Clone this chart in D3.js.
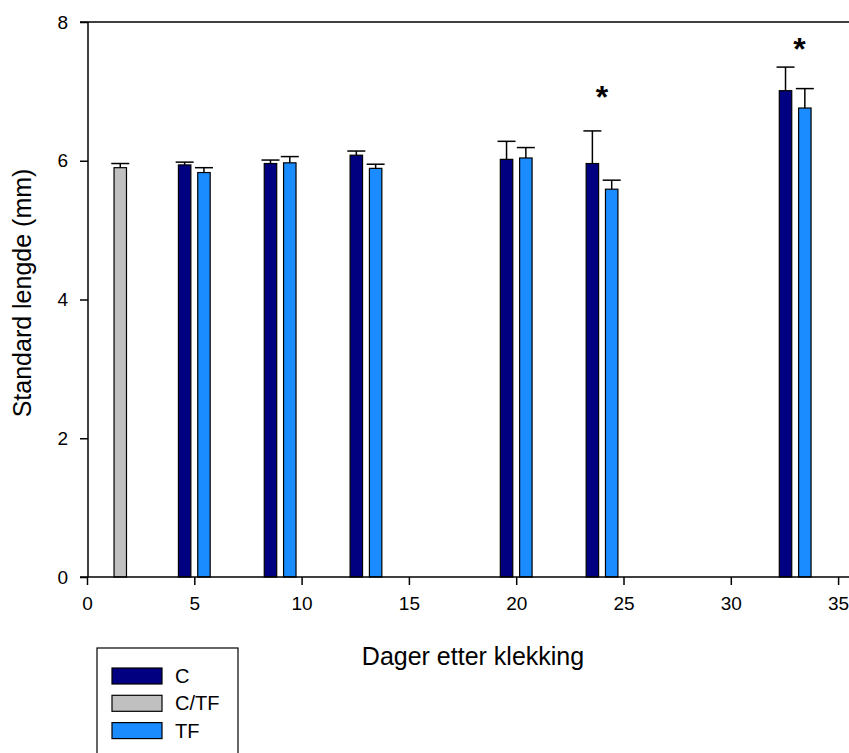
<!DOCTYPE html>
<html>
<head>
<meta charset="utf-8">
<script src="https://cdn.jsdelivr.net/npm/d3@7"></script>
<style>
  html, body { margin: 0; padding: 0; background: #fff; }
  svg { display: block; font-family: Arial, "Liberation Sans", sans-serif; }
</style>
</head>
<body>
<svg id="chart" width="849" height="753"></svg>
<script>
// ---- data ----
const days = [5, 9, 13, 20, 24, 33];
const cMean = [5.94, 5.96, 6.08, 6.02, 5.96, 7.01];
const cErr = [0.04, 0.05, 0.06, 0.26, 0.47, 0.34];
const tfMean = [5.83, 5.97, 5.89, 6.04, 5.59, 6.76];
const tfErr = [0.07, 0.09, 0.06, 0.15, 0.13, 0.28];
const ctfDays = [2];
const ctfMean = [5.90];
const ctfErr = [0.06];
const sigDays = [24, 33.2];
const sigLevel = [6.97, 7.67];
const xTicks = [0, 5, 10, 15, 20, 25, 30, 35];
const yTicks = [0, 2, 4, 6, 8];
const seriesNames = ["C", "C/TF", "TF"];
const seriesColors = ["#000080", "#c0c0c0", "#1a8cff"];

const svg = d3.select("#chart");
const x = d3.scaleLinear().domain([0, 36]).range([87, 87 + 36 * 21.46]);
const y = d3.scaleLinear().domain([0, 8]).range([577, 22]);

const barW = x(0.58) - x(0);
const off = 0.45;

const bars = [];
days.forEach((d, i) => {
  bars.push({ pos: d - off, v: cMean[i], e: cErr[i], s: 0 });
  bars.push({ pos: d + off, v: tfMean[i], e: tfErr[i], s: 2 });
});
ctfDays.forEach((d, i) => bars.push({ pos: d - off, v: ctfMean[i], e: ctfErr[i], s: 1 }));

// top frame line
svg.append("line").attr("x1", 80).attr("x2", 849).attr("y1", y(8)).attr("y2", y(8))
  .attr("stroke", "#000").attr("stroke-width", 1.5);

// error bars
const eg = svg.append("g");
bars.forEach(b => {
  const cx = x(b.pos);
  eg.append("line").attr("x1", cx).attr("x2", cx).attr("y1", y(b.v)).attr("y2", y(b.v + b.e))
    .attr("stroke", "#000").attr("stroke-width", 1.5);
  eg.append("line").attr("x1", cx - 9).attr("x2", cx + 9).attr("y1", y(b.v + b.e)).attr("y2", y(b.v + b.e))
    .attr("stroke", "#000").attr("stroke-width", 1.5);
});

// bars
svg.append("g").selectAll("rect").data(bars).join("rect")
  .attr("x", d => x(d.pos) - barW / 2)
  .attr("width", barW)
  .attr("y", d => y(d.v))
  .attr("height", d => y(0) - y(d.v))
  .attr("fill", d => seriesColors[d.s])
  .attr("stroke", "#000").attr("stroke-width", 1.2);

// axes
const yAxis = d3.axisLeft(y).tickValues(yTicks).tickSize(8).tickPadding(12).tickFormat(d3.format("d"));
const yg = svg.append("g").attr("transform", `translate(${x(0) + 1},0)`).call(yAxis);
const xAxis = d3.axisBottom(x).tickValues(xTicks).tickSize(8).tickPadding(12).tickFormat(d3.format("d"));
const xg = svg.append("g").attr("transform", `translate(0,${y(0)})`).call(xAxis);
[yg, xg].forEach(g => {
  g.select(".domain").attr("stroke", "#000").attr("stroke-width", 1.5);
  g.selectAll(".tick line").attr("stroke", "#000").attr("stroke-width", 1.5);
  g.selectAll(".tick text").style("font-size", "19px").attr("fill", "#000")
    .style("font-family", "Arial, 'Liberation Sans', sans-serif");
});
xg.select(".domain").attr("d", `M80,0H849`);
yg.select(".domain").attr("d", `M0,${y(0)}V${y(8)}`);

// significance asterisks
svg.append("g").selectAll("text").data(sigDays).join("text")
  .attr("x", d => x(d))
  .attr("y", (d, i) => y(sigLevel[i]) + 15)
  .attr("text-anchor", "middle")
  .attr("font-size", 32)
  .attr("font-weight", "bold")
  .text("*");

// axis titles
svg.append("text").attr("x", 473).attr("y", 665).attr("text-anchor", "middle")
  .attr("font-size", 25).text("Dager etter klekking");
svg.append("text").attr("transform", `translate(31,293) rotate(-90)`)
  .attr("text-anchor", "middle").attr("font-size", 25).text("Standard lengde (mm)");

// legend
const lg = svg.append("g");
lg.append("rect").attr("x", 97).attr("y", 648).attr("width", 141).attr("height", 120)
  .attr("fill", "#fff").attr("stroke", "#000").attr("stroke-width", 1.2);
seriesNames.forEach((n, i) => {
  const yy = 668 + i * 27.3;
  lg.append("rect").attr("x", 112).attr("y", yy).attr("width", 50).attr("height", 16)
    .attr("fill", seriesColors[i]).attr("stroke", "#000").attr("stroke-width", 1.2);
  lg.append("text").attr("x", 175).attr("y", yy + 15).attr("font-size", 20).text(n);
});
</script>
</body>
</html>
